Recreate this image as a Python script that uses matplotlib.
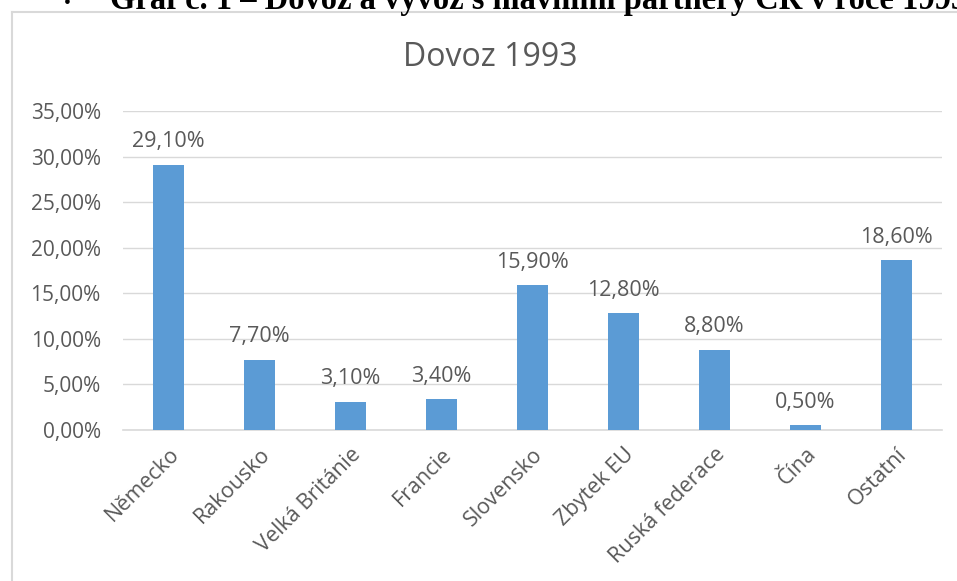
import numpy as np
import matplotlib.pyplot as plt
from matplotlib.lines import Line2D
from matplotlib.ticker import FuncFormatter

categories = ['Německo', 'Rakousko', 'Velká Británie', 'Francie', 'Slovensko',
              'Zbytek EU', 'Ruská federace', 'Čína', 'Ostatní']
values = [29.10, 7.70, 3.10, 3.40, 15.90, 12.80, 8.80, 0.50, 18.60]
y_ticks = [0, 5, 10, 15, 20, 25, 30, 35]

title = 'Dovoz 1993'
doc_heading = 'Graf č. 1 – Dovoz a vývoz s hlavními partnery ČR v roce 1993'

bar_color = '#5B9BD5'
text_color = '#595959'
grid_color = '#D9D9D9'
font = ['Open Sans', 'DejaVu Sans']


def pct(v):
    return f'{v:.2f}'.replace('.', ',') + '%'


fig = plt.figure(figsize=(9.57, 5.81), dpi=100)
W, H = 957, 581

# chart frame (only left and top edges visible in the crop)
fig.add_artist(Line2D([12 / W, 12 / W], [0, 1 - 12 / H], color=grid_color, lw=1.5))
fig.add_artist(Line2D([12 / W, 1], [1 - 12 / H, 1 - 12 / H], color=grid_color, lw=1.5))

# document heading, cut off by the top of the picture
fig.text(64 / W, 1 - 8 / H, '•', fontsize=14, family='Liberation Serif', va='baseline')
fig.text(110 / W, 1 - 9 / H, doc_heading, fontsize=23.5, fontweight='bold',
         family='Liberation Serif', va='baseline')

ax = fig.add_axes([123 / W, 151 / H, 819 / W, 319 / H])
x = np.arange(len(categories))
bars = ax.bar(x, values, width=0.33, color=bar_color, zorder=3)

ax.set_xlim(-0.5, len(categories) - 0.5)
ax.set_ylim(0, 35)
ax.set_yticks(y_ticks)
ax.yaxis.set_major_formatter(FuncFormatter(lambda v, p: pct(v)))
ax.grid(axis='y', color=grid_color, lw=1, zorder=0)
for s in ['top', 'right', 'left']:
    ax.spines[s].set_visible(False)
ax.spines['bottom'].set_color(grid_color)
ax.spines['bottom'].set_linewidth(1.2)
ax.tick_params(axis='both', length=0, colors=text_color, labelsize=15)
ax.tick_params(axis='y', pad=16)

ax.set_xticks(x)
ax.set_xticklabels(categories, rotation=45, ha='right', rotation_mode='anchor',
                   family=font, color=text_color, fontsize=15.5)
for lab in ax.get_yticklabels():
    lab.set_family(font)
ax.tick_params(axis='x', pad=10)

for xi, v in zip(x, values):
    ax.annotate(pct(v), (xi, v), xytext=(0, 9), textcoords='offset points',
                ha='center', va='bottom', color=text_color, fontsize=15.5, family=font)

fig.text(490 / W, 1 - 58 / H, title, ha='center', va='center', fontsize=23,
         color=text_color, family=font)

fig.savefig('out.png', dpi=100)
